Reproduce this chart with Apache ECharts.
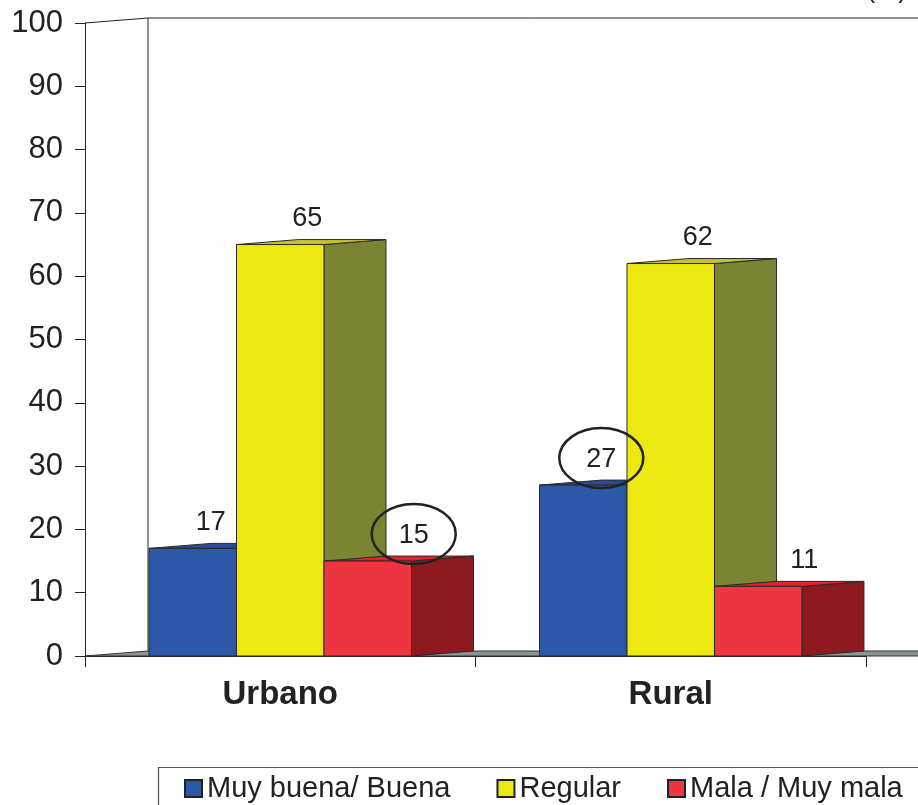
<!DOCTYPE html>
<html>
<head>
<meta charset="utf-8">
<script src="https://cdn.jsdelivr.net/npm/echarts@6/dist/echarts.min.js"></script>
<style>
html,body{margin:0;padding:0;background:#fff;}
#chart{width:918px;height:805px;}
</style>
</head>
<body>
<div id="chart"></div>
<script>
// ---- data ----
const categories = ['Urbano', 'Rural'];
const seriesNames = ['Muy buena/ Buena', 'Regular', 'Mala / Muy mala'];
const muyBuena = [17, 27];
const regular = [65, 62];
const mala = [15, 11];
const yTicks = [0, 10, 20, 30, 40, 50, 60, 70, 80, 90, 100];
// circled values: [categoryIndex, seriesIndex]
const circled = [[0, 2], [1, 0]];

// ---- style ----
const FONT = 'Liberation Sans, Arial, sans-serif';
const DX = 62, DY = 5;
const BAR_RATIO = 0.224;
const faceColors = [
  {front: '#2D58A7', top: '#284C98', side: '#1F3C7A'},
  {front: '#ECE812', top: '#C4C130', side: '#7A8432'},
  {front: '#EE3640', top: '#E2222A', side: '#8E1A1F'}
];
const labelDx = [18, 27, 46];
const seriesValues = [muyBuena, regular, mala];

function isCircled(c, s){
  return circled.some(p => p[0] === c && p[1] === s);
}

function barGeom(api, cat, val, sIdx){
  const base = api.coord([cat, 0]);
  const top = api.coord([cat, val]);
  const band = api.size([1, 0])[0];
  const bw = band * BAR_RATIO;
  const x0 = base[0] + (sIdx - 1.5) * bw;
  return {x0: x0, x1: x0 + bw, yb: base[1], yt: top[1], bw: bw};
}

function barRender(sIdx){
  return function(params, api){
    const g = barGeom(api, api.value(0), api.value(2), sIdx);
    const col = faceColors[sIdx];
    const stroke = {stroke: '#2a2a2a', lineWidth: 1};
    return {type: 'group', children: [
      {type: 'polygon', shape: {points: [[g.x1, g.yt], [g.x1 + DX, g.yt - DY], [g.x1 + DX, g.yb - DY], [g.x1, g.yb]]},
       style: Object.assign({fill: col.side}, stroke)},
      {type: 'polygon', shape: {points: [[g.x0, g.yt], [g.x1, g.yt], [g.x1 + DX, g.yt - DY], [g.x0 + DX, g.yt - DY]]},
       style: Object.assign({fill: col.top}, stroke)},
      {type: 'rect', shape: {x: g.x0, y: g.yt, width: g.bw, height: g.yb - g.yt},
       style: Object.assign({fill: col.front}, stroke)}
    ]};
  };
}

function labelRender(params, api){
  const cat = api.value(0), sIdx = api.value(1), val = api.value(2);
  const g = barGeom(api, cat, val, sIdx);
  const lx = (g.x0 + g.x1) / 2 + labelDx[sIdx];
  const ly = g.yt - 26;
  const children = [{type: 'text', style: {text: String(val), x: lx, y: ly,
    textAlign: 'center', textVerticalAlign: 'middle', font: '27px ' + FONT, fill: '#222'}}];
  if (isCircled(cat, sIdx)) {
    children.push({type: 'ellipse', shape: {cx: lx, cy: ly - 1, rx: 42, ry: 30},
      style: {fill: null, stroke: '#222', lineWidth: 2.5}});
  }
  return {type: 'group', children: children};
}

function frameRender(params, api){
  const cs = params.coordSys;
  const x = cs.x, yb = cs.y + cs.height, yt = cs.y;
  const right = 930;
  return {type: 'group', children: [
    {type: 'polygon', shape: {points: [[x, yb], [x + DX + 1, yb - DY], [right, yb - DY], [right, yb]]},
     style: {fill: '#8C9494', stroke: '#333', lineWidth: 1}},
    {type: 'line', shape: {x1: x + DX + 1, y1: yb - DY, x2: x + DX + 1, y2: yt - DY},
     style: {stroke: '#222', lineWidth: 1}},
    {type: 'polyline', shape: {points: [[x, yt], [x + DX + 1, yt - DY], [right, yt - DY]]},
     style: {stroke: '#222', lineWidth: 1, fill: null}}
  ]};
}

const chart = echarts.init(document.getElementById('chart'), null, {renderer: 'canvas'});
const series = [{
  type: 'custom', name: '_frame', z: 1, silent: true,
  renderItem: frameRender, data: [[0, 0, 0]], encode: {x: 0, y: 2}
}];
const labelData = [];
seriesNames.forEach((n, i) => {
  series.push({
    type: 'custom', name: n, z: 2 + i,
    itemStyle: {color: faceColors[i].front, borderColor: '#222', borderWidth: 1},
    renderItem: barRender(i),
    encode: {x: 0, y: 2},
    data: seriesValues[i].map((v, c) => [c, i, v])
  });
  seriesValues[i].forEach((v, c) => labelData.push([c, i, v]));
});
series.push({
  type: 'custom', name: '_labels', z: 10, silent: true,
  renderItem: labelRender, encode: {x: 0, y: 2}, data: labelData
});

chart.setOption({
  animation: false,
  backgroundColor: '#fff',
  title: {text: '(%)', right: 6, top: -27, textStyle: {fontFamily: FONT, fontSize: 26, fontWeight: 'normal', color: '#222'}},
  grid: {left: 85, right: 52, top: 23, bottom: 149, containLabel: false},
  legend: {
    data: seriesNames, left: 184, top: 774, padding: 0, itemGap: 46,
    itemWidth: 17, itemHeight: 17, icon: 'rect',
    textStyle: {fontFamily: FONT, fontSize: 29, color: '#222', padding: [0, 0, 0, 0]}
  },
  graphic: [{type: 'rect', shape: {x: 158.5, y: 767.5, width: 800, height: 80},
    style: {fill: null, stroke: '#555', lineWidth: 1.2}, z: -1}],
  xAxis: {
    type: 'category', data: categories, boundaryGap: true,
    axisLine: {show: true, lineStyle: {color: '#222', width: 1}},
    axisTick: {show: true, length: 11, lineStyle: {color: '#222'}},
    axisLabel: {fontFamily: FONT, fontSize: 33, fontWeight: 'bold', color: '#222', margin: 22}
  },
  yAxis: {
    type: 'value', min: 0, max: 100, interval: 10,
    axisLine: {show: true, lineStyle: {color: '#222', width: 1}},
    axisTick: {show: true, length: 10, lineStyle: {color: '#222'}},
    splitLine: {show: false},
    axisLabel: {fontFamily: FONT, fontSize: 31, color: '#222', margin: 22,
      formatter: v => yTicks.includes(v) ? String(v) : ''}
  },
  series: series
});
</script>
</body>
</html>
